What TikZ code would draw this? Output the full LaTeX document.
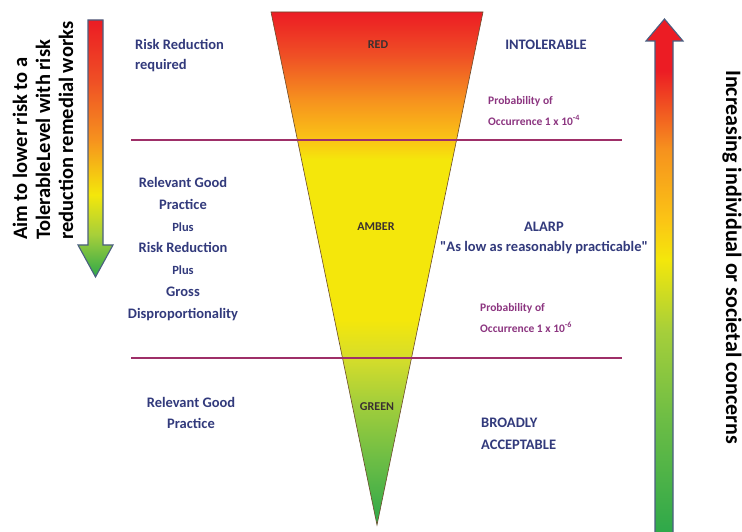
\documentclass[tikz,border=0pt]{standalone}
\usepackage{fontspec}
\setmainfont{Carlito}
\usetikzlibrary{positioning}
\definecolor{navy}{HTML}{323A7C}
\definecolor{plum}{HTML}{8C3580}
\definecolor{band}{HTML}{9E2F68}
\definecolor{edge}{HTML}{4A5E80}
\definecolor{zone}{HTML}{3A3030}
\definecolor{rim}{HTML}{6B4A2A}
\definecolor{sRed}{HTML}{EC1C24}
\definecolor{sFlame}{HTML}{EF4F25}
\definecolor{sOrange}{HTML}{F6921E}
\definecolor{sAmber}{HTML}{FBC515}
\definecolor{sYellow}{HTML}{F4E70B}
\definecolor{sPale}{HTML}{D6DD2A}
\definecolor{sLime}{HTML}{A6CF3A}
\definecolor{sLeaf}{HTML}{6CBD45}
\definecolor{sGreen}{HTML}{2EA84A}
\pgfdeclareverticalshading{funnelshade}{100bp}{color(0bp)=(sGreen); color(25bp)=(sGreen);
  color(31.3bp)=(sLeaf); color(37.2bp)=(sLime); color(41.3bp)=(sPale); color(45bp)=(sYellow);
  color(60.6bp)=(sYellow); color(62.5bp)=(sAmber); color(66.4bp)=(sOrange); color(70.8bp)=(sFlame);
  color(75bp)=(sRed); color(100bp)=(sRed)}
\pgfdeclareverticalshading{downshade}{100bp}{color(0bp)=(sGreen); color(25bp)=(sGreen);
  color(33.2bp)=(sLime); color(41bp)=(sYellow); color(51.7bp)=(sOrange); color(63.3bp)=(sFlame);
  color(75bp)=(sRed); color(100bp)=(sRed)}
\pgfdeclareverticalshading{upshade}{100bp}{color(0bp)=(sGreen); color(25bp)=(sGreen);
  color(36bp)=(sLeaf); color(44.7bp)=(sLime); color(51.6bp)=(sYellow); color(55.4bp)=(sAmber);
  color(62.3bp)=(sOrange); color(70bp)=(sRed); color(75bp)=(sRed); color(100bp)=(sRed)}
\tikzset{
  navytxt/.style  = {text=navy, inner sep=0pt, font=\fontsize{14.5}{20}\selectfont\bfseries},
  plumtxt/.style  = {text=plum, inner sep=0pt, font=\fontsize{11.5}{20.5}\selectfont\bfseries},
  zonetxt/.style  = {text=zone, inner sep=0pt, font=\fontsize{12}{14}\selectfont\bfseries},
  sidetxt/.style  = {text=black, inner sep=0pt, font=\fontsize{20.5}{23}\selectfont\bfseries},
  bandline/.style = {draw=band, line width=2.6pt},
  arrowedge/.style= {draw=edge, line width=1.1pt, line join=miter},
}
\newcommand{\plusfont}{\fontsize{12.5}{21.7}\selectfont}

\begin{document}
\begin{tikzpicture}[x=1pt,y=1pt]
  \useasboundingbox (0,0) rectangle (742,531);
  \fill[white] (0,0) rectangle (742,531);
  % funnel of risk
  \shadedraw[shading=funnelshade,draw=rim,line width=0.6pt] (271,519) -- (483,519) -- (377,6) -- cycle;
  \draw[bandline] (131,391) -- (622,391);
  \draw[bandline] (131,173) -- (622,173);
  % side arrows
  \shadedraw[shading=downshade,arrowedge] (88,511) -- (103,511) -- (103,286) -- (113,286)
    -- (95.5,254) -- (78,286) -- (88,286) -- cycle;
  \shadedraw[shading=upshade,arrowedge] (655,-2) -- (655,490) -- (646,490) -- (664.5,512)
    -- (683,490) -- (673,490) -- (673,-2) -- cycle;
  \node[sidetxt,rotate=90,anchor=west,align=left] (aimtxt) at (43,291)
    {Aim to lower risk to a\\TolerableLevel with risk\\reduction remedial works};
  \node[sidetxt,font=\fontsize{22}{27}\selectfont\bfseries,rotate=-90,anchor=base west] (concerntxt)
    at (726,461) {Increasing individual or societal concerns};
  % zone names
  \node[zonetxt] (redzone) at (378,486) {RED};
  \node[zonetxt] (amberzone) at (376,304) {AMBER};
  \node[zonetxt] (greenzone) at (377,124) {GREEN};
  % left column
  \node[navytxt,align=left,anchor=west] (riskreq) at (135,475) {Risk Reduction\\required};
  \node[navytxt,align=center,font=\fontsize{14.5}{21.7}\selectfont\bfseries] (goodblock) at (183,282)
    {Relevant Good\\Practice\\{\plusfont Plus}\\Risk Reduction\\{\plusfont Plus}\\Gross\\Disproportionality};
  \node[navytxt,align=center,font=\fontsize{14.5}{21}\selectfont\bfseries] (goodgreen) at (191,118.5)
    {Relevant Good\\Practice};
  % right column
  \node[navytxt] (intol) at (546,486) {INTOLERABLE};
  \node[plumtxt,align=left,anchor=west] (probhigh) at (488,420)
    {Probability of\\Occurrence 1 x 10\textsuperscript{-4}};
  \node[navytxt,align=center] (alarp) at (544,293)
    {ALARP\\\textquotedbl As low as reasonably practicable\textquotedbl};
  \node[plumtxt,align=left,anchor=west] (problow) at (480,213)
    {Probability of\\Occurrence 1 x 10\textsuperscript{-6}};
  \node[navytxt,align=left,anchor=west,font=\fontsize{14.5}{22}\selectfont\bfseries] (broad) at (481,97)
    {BROADLY\\ACCEPTABLE};
\end{tikzpicture}
\end{document}
